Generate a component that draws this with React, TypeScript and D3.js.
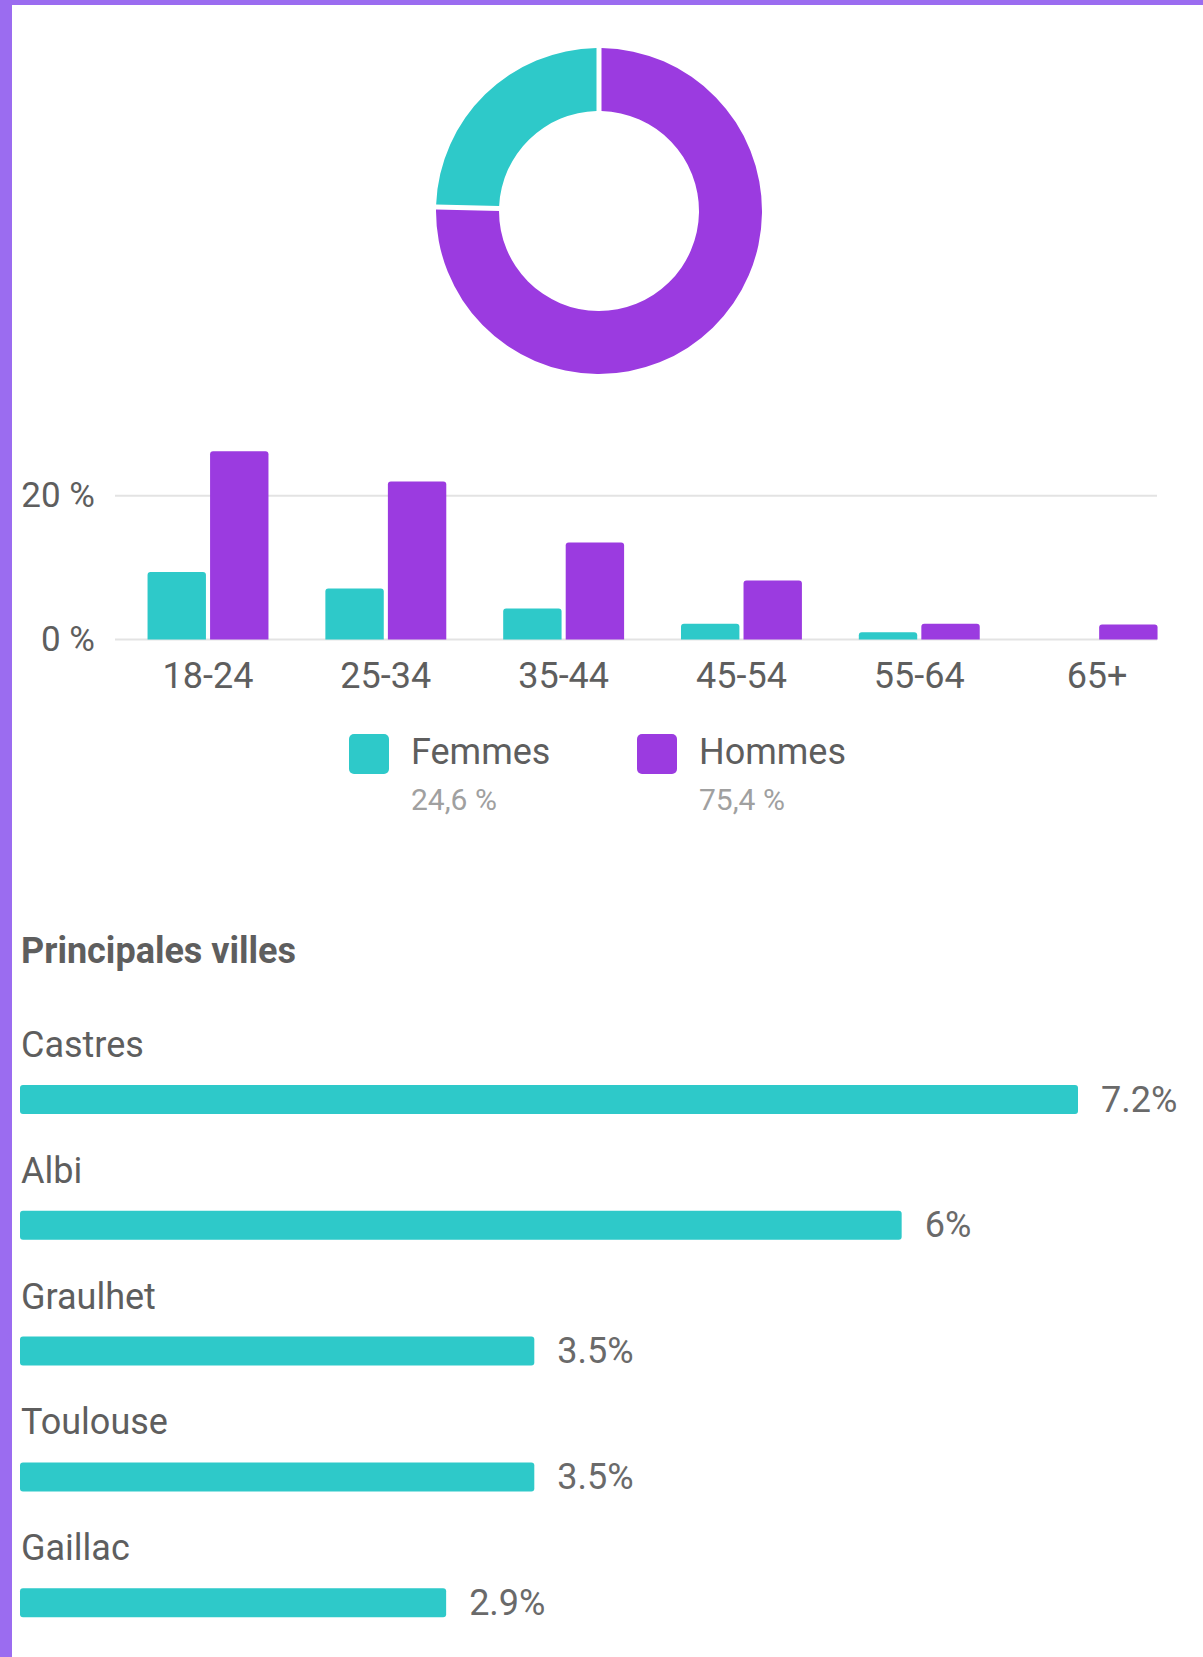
import React from "react";
import * as d3 from "d3";

const W = 1203;
const H = 1657;

const genderLabels = ["Femmes", "Hommes"];
const genderShares = [24.6, 75.4];
const genderShareLabels = ["24,6 %", "75,4 %"];
const genderColors = ["#2ec9c9", "#9b3be0"];

const ageGroups = ["18-24", "25-34", "35-44", "45-54", "55-64", "65+"];
const femmesValues = [9.4, 7.1, 4.3, 2.2, 1.0, 0];
const hommesValues = [26.2, 22.0, 13.5, 8.2, 2.2, 2.1];
const yTicks = [0, 20];
const yTickLabels = ["0 %", "20 %"];

const cities = ["Castres", "Albi", "Graulhet", "Toulouse", "Gaillac"];
const cityValues = [7.2, 6, 3.5, 3.5, 2.9];
const cityLabels = ["7.2%", "6%", "3.5%", "3.5%", "2.9%"];

const FONT = "Roboto, 'Noto Sans', sans-serif";
const TEXT = "#5e5e5e";

function roundedTopBar(x: number, y: number, w: number, h: number, r: number) {
  if (h <= 0) return "";
  const rr = Math.min(r, h, w / 2);
  return `M${x},${y + h}V${y + rr}Q${x},${y} ${x + rr},${y}H${x + w - rr}Q${x + w},${y} ${x + w},${y + rr}V${y + h}Z`;
}

export default function App() {
  // Donut
  const cx = 599;
  const cy = 211;
  const outerR = 163;
  const innerR = 100;
  const pieData = d3
    .pie<number>()
    .sort(null)
    .value((d) => d)([genderShares[1], genderShares[0]]);
  const padR = 130;
  const arcGen = d3
    .arc<d3.PieArcDatum<number>>()
    .innerRadius(innerR)
    .outerRadius(outerR)
    .padAngle(5 / padR)
    .padRadius(padR);
  const pieColors = [genderColors[1], genderColors[0]];

  // Bar chart
  const y = d3.scaleLinear().domain([0, 20]).range([639.5, 495.8]);
  const x0 = d3
    .scaleBand<string>()
    .domain(ageGroups)
    .range([119.1, 1186])
    .paddingInner(0.32)
    .paddingOuter(0.16);
  const x1 = d3
    .scaleBand<string>()
    .domain(genderLabels)
    .range([0, x0.bandwidth()])
    .paddingInner(0.066)
    .paddingOuter(0);
  const series = [femmesValues, hommesValues];
  const gridX0 = 115;
  const gridX1 = 1157;

  // Cities
  const cx0 = 20;
  const xc = d3.scaleLinear().domain([0, 7.2]).range([cx0, 1078]);
  const rowStep = 125.8;
  const firstName = 1057;
  const firstBar = 1085;
  const barH = 29;

  return (
    <svg
      width={W}
      height={H}
      viewBox={`0 0 ${W} ${H}`}
      style={{ position: "absolute", left: 0, top: 0, display: "block", background: "#fff" }}
      fontFamily={FONT}
    >
      <rect x={0} y={0} width={W} height={H} fill="#ffffff" />
      {/* border */}
      <rect x={0} y={0} width={W} height={5} fill="#9b6cf0" />
      <rect x={0} y={0} width={12} height={H} fill="#9b6cf0" />

      {/* donut */}
      <g transform={`translate(${cx},${cy})`}>
        {pieData.map((d, i) => (
          <path key={i} d={arcGen(d) || ""} fill={pieColors[i]} />
        ))}
      </g>

      {/* grid */}
      {yTicks.map((t, i) => (
        <g key={t}>
          <line x1={gridX0} x2={gridX1} y1={y(t)} y2={y(t)} stroke="#e3e3e3" strokeWidth={2} />
          <text
            x={95}
            y={y(t)}
            textAnchor="end"
            dominantBaseline="central"
            fontSize={35}
            fill={TEXT}
          >
            {yTickLabels[i]}
          </text>
        </g>
      ))}

      {/* bars */}
      {ageGroups.map((g, gi) => (
        <g key={g} transform={`translate(${x0(g)},0)`}>
          {genderLabels.map((s, si) => {
            const v = series[si][gi];
            const top = y(v);
            const h = y(0) - top;
            return (
              <path
                key={s}
                d={roundedTopBar(x1(s) as number, top, x1.bandwidth(), h, 3)}
                fill={genderColors[si]}
              />
            );
          })}
          <text
            x={x0.bandwidth() / 2}
            y={688}
            textAnchor="middle"
            fontSize={36}
            fill={TEXT}
          >
            {g}
          </text>
        </g>
      ))}

      {/* legend */}
      {genderLabels.map((s, i) => {
        const lx = [349, 637][i];
        return (
          <g key={s}>
            <rect x={lx} y={734} width={40} height={40} rx={5} fill={genderColors[i]} />
            <text x={lx + 62} y={764} fontSize={36} fill={TEXT}>
              {s}
            </text>
            <text x={lx + 62} y={810} fontSize={30} fill="#a0a0a0">
              {genderShareLabels[i]}
            </text>
          </g>
        );
      })}

      {/* cities */}
      <text x={21} y={963} fontSize={36} fontWeight={700} fill={TEXT}>
        Principales villes
      </text>
      {cities.map((c, i) => {
        const by = firstBar + i * rowStep;
        return (
          <g key={c}>
            <text x={21} y={firstName + i * rowStep} fontSize={36} fill={TEXT}>
              {c}
            </text>
            <rect
              x={cx0}
              y={by}
              width={xc(cityValues[i]) - cx0}
              height={barH}
              rx={3}
              fill={genderColors[0]}
            />
            <text
              x={xc(cityValues[i]) + 23}
              y={by + barH / 2}
              dominantBaseline="central"
              fontSize={36}
              fill="#6a6a6a"
            >
              {cityLabels[i]}
            </text>
          </g>
        );
      })}
    </svg>
  );
}
